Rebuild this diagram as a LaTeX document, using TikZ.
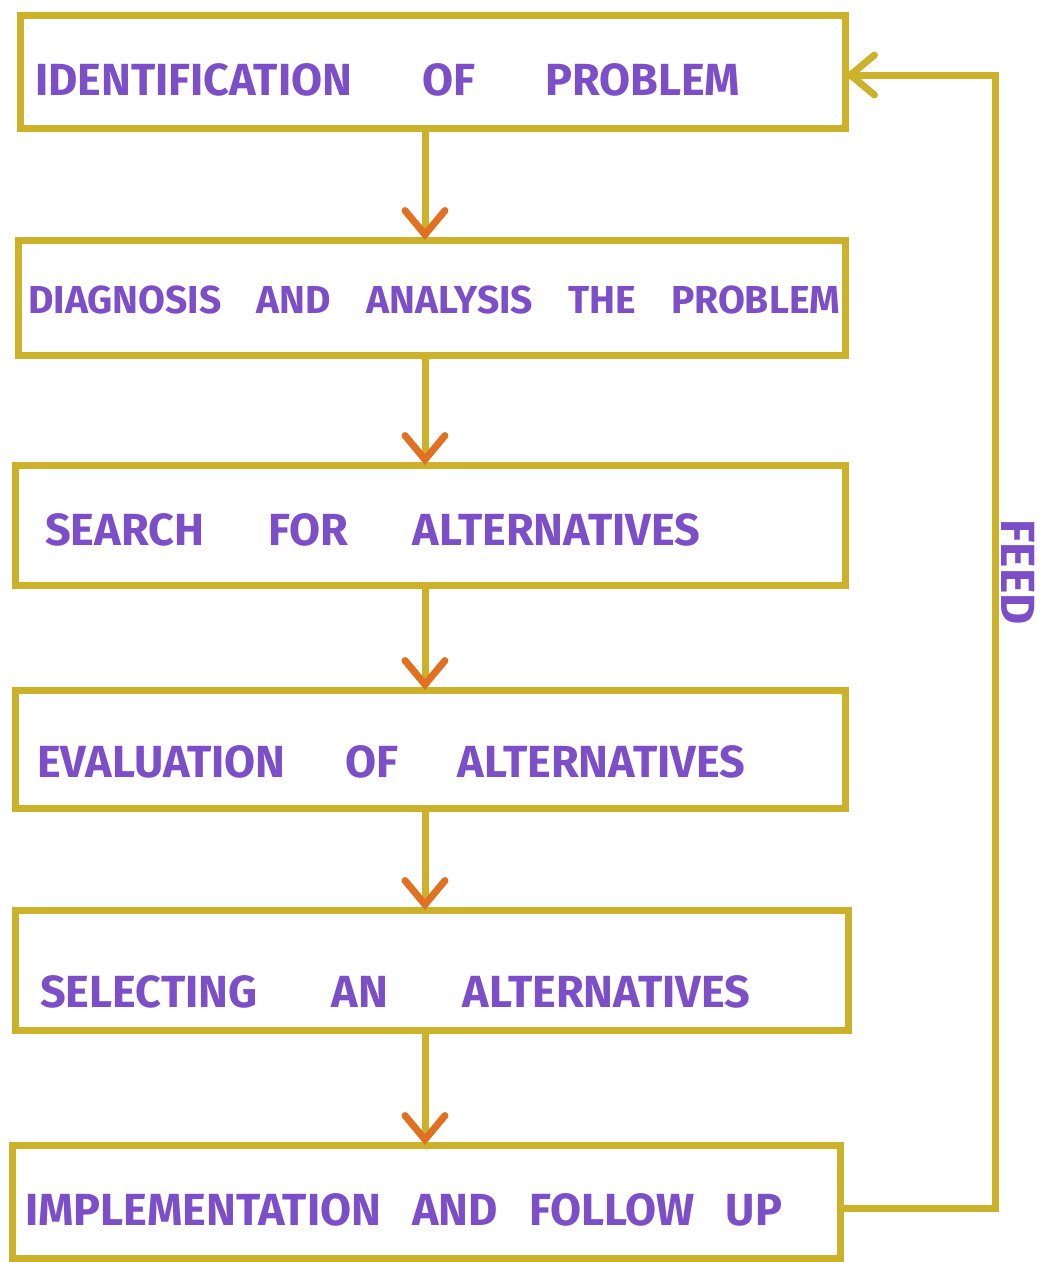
\documentclass[tikz,border=0pt]{standalone}
\usepackage{fontspec}
\setmainfont{Fira Sans}
\usetikzlibrary{arrows.meta}
\definecolor{mustard}{RGB}{204,178,42}
\definecolor{ink}{RGB}{124,78,200}
\definecolor{tip}{RGB}{226,112,34}
\tikzset{
  stepbox/.style={draw=mustard, line width=7pt, rectangle, inner sep=0pt, outer sep=0pt},
  lbl/.style={text=ink, font=\fontsize{45}{45}\selectfont\bfseries, anchor=west, inner sep=0pt},
  flow/.style={draw=mustard, line width=7pt,
    -{Straight Barb[length=24pt, width=40pt, line width=7pt, line cap=round, color=tip]}},
  fb/.style={draw=mustard, line width=7pt, line cap=round,
    -{Straight Barb[length=24pt, width=40pt, line width=7pt, line cap=round, color=mustard]}}
}
\newcommand{\spreadline}[2]{\hbox to #1{#2}}
\begin{document}
\begin{tikzpicture}[x=1pt,y=-1pt]
  \fill[white] (0,0) rectangle (1042,1262);
  \useasboundingbox (0,0) rectangle (1042,1262);

  % the six stages
  \node[stepbox, minimum width=825pt, minimum height=113pt] (b1) at (432.5,71.5) {};
  \node[stepbox, minimum width=827pt, minimum height=115pt] (b2) at (431.5,297.5) {};
  \node[stepbox, minimum width=830pt, minimum height=120pt] (b3) at (430,525) {};
  \node[stepbox, minimum width=830pt, minimum height=118pt] (b4) at (430,749) {};
  \node[stepbox, minimum width=833pt, minimum height=120pt] (b5) at (431.5,970) {};
  \node[stepbox, minimum width=828pt, minimum height=113pt] (b6) at (426,1201.5) {};

  % stage labels
  \node[lbl] (t1) at (35,80) {\spreadline{705pt}{IDENTIFICATION\hfill OF\hfill PROBLEM}};
  \node[lbl, font=\fontsize{39}{39}\selectfont\bfseries] (t2) at (28,300) {\spreadline{812pt}{DIAGNOSIS\hfill AND\hfill ANALYSIS\hfill THE\hfill PROBLEM}};
  \node[lbl] (t3) at (45,530) {\spreadline{655pt}{SEARCH\hfill FOR\hfill ALTERNATIVES}};
  \node[lbl] (t4) at (37,762) {\spreadline{708pt}{EVALUATION\hfill OF\hfill ALTERNATIVES}};
  \node[lbl] (t5) at (40,992) {\spreadline{710pt}{SELECTING\hfill AN\hfill ALTERNATIVES}};
  \node[lbl] (t6) at (25,1210) {\spreadline{757pt}{IMPLEMENTATION\hfill AND\hfill FOLLOW\hfill UP}};

  % downward flow, all on one vertical line
  \coordinate (ax) at (425,0);
  \draw[flow] (b1.south -| ax) -- (b2.north -| ax);
  \draw[flow] (b2.south -| ax) -- (b3.north -| ax);
  \draw[flow] (b3.south -| ax) -- (b4.north -| ax);
  \draw[flow] (b4.south -| ax) -- (b5.north -| ax);
  \draw[flow] (b5.south -| ax) -- (b6.north -| ax);

  % feedback loop
  \coordinate (fbbot) at (995,1208);
  \coordinate (fbtop) at (995,75);
  \draw[fb] (b6.east |- fbbot) -- (fbbot) -- (fbtop) -- (b1.east |- fbtop);
  \node[text=ink, font=\fontsize{48}{48}\selectfont\bfseries, rotate=-90, inner sep=0pt] (feed) at (1018,572) {FEED};
\end{tikzpicture}
\end{document}
